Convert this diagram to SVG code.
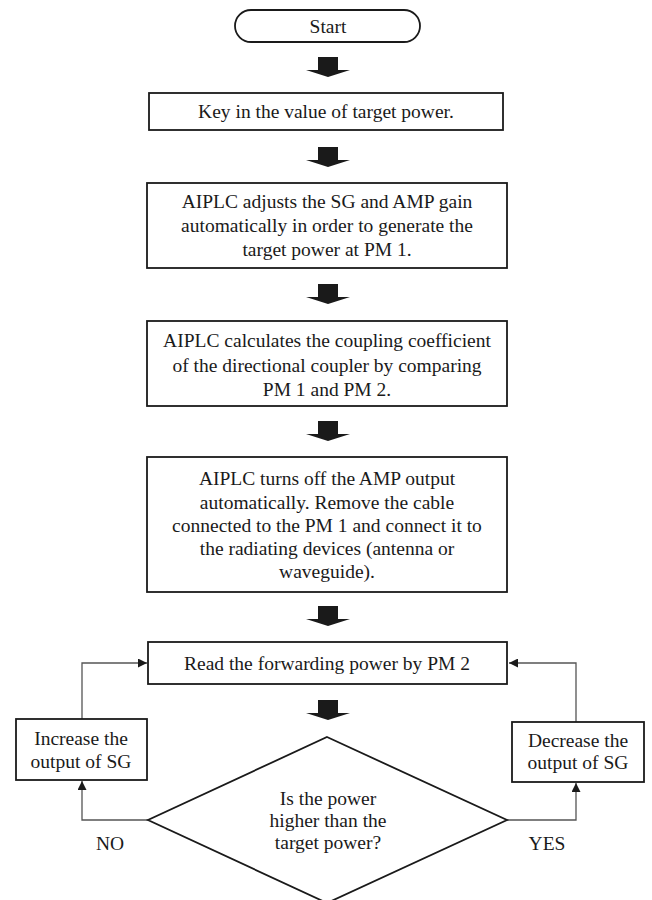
<svg xmlns="http://www.w3.org/2000/svg" xmlns:xlink="http://www.w3.org/1999/xlink" width="652" height="900" viewBox="0 0 652 900">
<style>
.box{fill:#fff;stroke:#1a1a1a;stroke-width:1.8}
text{font-family:'Liberation Serif','Tinos','Times New Roman','DejaVu Serif',serif;font-size:19.5px;fill:#1a1a1a;text-anchor:middle}
.con{fill:none;stroke:#555;stroke-width:1.3}
.blk{fill:#1a1a1a}
</style>
<defs>
<path id="barrow" d="M-10,0 H10 V13 H22 L0,20 L-22,13 H-10 Z"/>
<marker id="ah" viewBox="0 0 10 10" refX="10" refY="5" markerWidth="9" markerHeight="9" markerUnits="userSpaceOnUse" orient="auto">
<path d="M0,0 L10,5 L0,10 Z" fill="#1a1a1a"/>
</marker>
</defs>
<rect width="652" height="900" fill="#fff"/>

<g id="connectors">
<use xlink:href="#barrow" class="blk" x="328" y="57"/>
<use xlink:href="#barrow" class="blk" x="328" y="147"/>
<use xlink:href="#barrow" class="blk" x="328" y="284"/>
<use xlink:href="#barrow" class="blk" x="328" y="421"/>
<use xlink:href="#barrow" class="blk" x="328" y="606"/>
<use xlink:href="#barrow" class="blk" x="328" y="700"/>
<path class="con" d="M82,719 V663 H147" marker-end="url(#ah)"/>
<path class="con" d="M148,820 H82 V781" marker-end="url(#ah)"/>
<path class="con" d="M576,722 V663 H509" marker-end="url(#ah)"/>
<path class="con" d="M507,820 H576 V783" marker-end="url(#ah)"/>
<text x="110" y="850">NO</text>
<text x="547" y="850">YES</text>
</g>

<g id="start">
<rect class="box" x="235" y="10" width="185" height="32" rx="16" ry="16"/>
<text x="328" y="33">Start</text>
</g>

<g id="key-in">
<rect class="box" x="149" y="93" width="354" height="37"/>
<text x="326" y="118">Key in the value of target power.</text>
</g>

<g id="adjust">
<rect class="box" x="147" y="183" width="360" height="85"/>
<text x="327" y="208">AIPLC adjusts the SG and AMP gain</text>
<text x="327" y="232">automatically in order to generate the</text>
<text x="327" y="256">target power at PM 1.</text>
</g>

<g id="calculate">
<rect class="box" x="147" y="321" width="360" height="85"/>
<text x="327" y="347">AIPLC calculates the coupling coefficient</text>
<text x="327" y="372">of the directional coupler by comparing</text>
<text x="327" y="396">PM 1 and PM 2.</text>
</g>

<g id="turn-off">
<rect class="box" x="147" y="457" width="360" height="135"/>
<text x="327" y="485">AIPLC turns off the AMP output</text>
<text x="327" y="509">automatically. Remove the cable</text>
<text x="327" y="532">connected to the PM 1 and connect it to</text>
<text x="327" y="555">the radiating devices (antenna or</text>
<text x="327" y="578">waveguide).</text>
</g>

<g id="read">
<rect class="box" x="148" y="642" width="359" height="42"/>
<text x="327" y="670">Read the forwarding power by PM 2</text>
</g>

<g id="increase">
<rect class="box" x="16" y="719" width="131" height="61"/>
<text x="81" y="745">Increase the</text>
<text x="81" y="768">output of SG</text>
</g>

<g id="decrease">
<rect class="box" x="512" y="722" width="132" height="60"/>
<text x="578" y="747">Decrease the</text>
<text x="578" y="769">output of SG</text>
</g>

<g id="decision">
<polygon class="box" points="327,737 507,820 327,903 148,820"/>
<text x="328" y="805">Is the power</text>
<text x="328" y="827">higher than the</text>
<text x="328" y="849">target power?</text>
</g>
</svg>
